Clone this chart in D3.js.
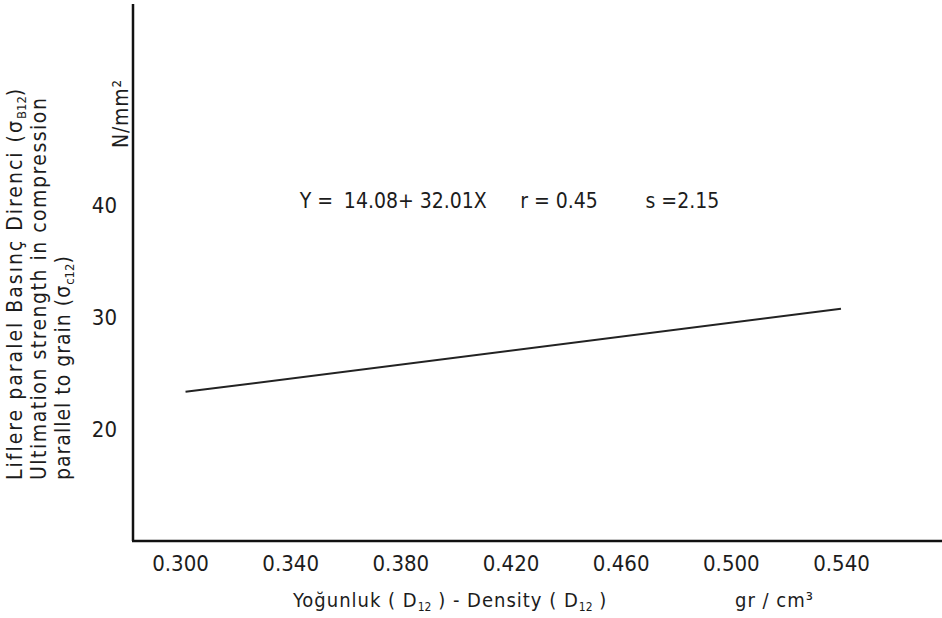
<!DOCTYPE html>
<html>
<head>
<meta charset="utf-8">
<script src="https://cdn.jsdelivr.net/npm/d3@7/dist/d3.min.js"></script>
<style>
  body { margin: 0; background: #fff; }
  svg { display: block; }
  text { font-family: "DejaVu Sans Condensed", "Liberation Sans Narrow", "DejaVu Sans", sans-serif; fill: #1c1c1c; }
  .tick text { font-size: 22px; }
  .axis-line { stroke: #111; stroke-width: 2.5; }
  .fit-line { fill: none; stroke: #222; stroke-width: 2; }
</style>
</head>
<body>
<svg id="chart" width="942" height="618"></svg>
<script>
// density ticks (gr/cm3) and strength ticks (N/mm2)
var xTicks = [0.300, 0.340, 0.380, 0.420, 0.460, 0.500, 0.540];
var yTicks = [20, 30, 40];

// regression line end points as drawn
var lineX = [0.302, 0.540];
var lineY = [23.4, 30.8];

var yTitleLines = [
  ["Liflere  paralel  Basınç  Direnci  (σ", "B12", ")"],
  ["Ultimation  strength  in  compression", "", ""],
  ["parallel  to  grain (σ", "c12", ")"]
];
var yTitleSpacing = [2.0, 1.5, 1.0];

var width = 942, height = 618;
var plotLeft = 133, plotBottom = 541, plotTop = 4;

var svg = d3.select("#chart");

var x = d3.scaleLinear().domain([0.300, 0.540]).range([180, 841]);
var y = d3.scaleLinear().domain([10, 58]).range([542, plotTop]);

// axes frame: left and bottom only
svg.append("line").attr("class", "axis-line")
  .attr("x1", plotLeft).attr("x2", plotLeft)
  .attr("y1", plotTop).attr("y2", plotBottom);
svg.append("line").attr("class", "axis-line")
  .attr("x1", plotLeft - 1).attr("x2", width)
  .attr("y1", plotBottom).attr("y2", plotBottom);

var xAxis = svg.append("g")
  .attr("transform", "translate(0," + plotBottom + ")")
  .call(d3.axisBottom(x).tickValues(xTicks).tickSize(0).tickPadding(14).tickFormat(d3.format(".3f")));
xAxis.select(".domain").remove();

var yAxis = svg.append("g")
  .attr("transform", "translate(" + plotLeft + ",0)")
  .call(d3.axisLeft(y).tickValues(yTicks).tickSize(0).tickPadding(16));
yAxis.select(".domain").remove();
svg.selectAll(".tick text").attr("fill", "#1c1c1c");

// fitted line
var pts = lineX.map(function(d, i) { return { x: d, y: lineY[i] }; });
svg.append("path")
  .datum(pts)
  .attr("class", "fit-line")
  .attr("d", d3.line().x(function(d) { return x(d.x); }).y(function(d) { return y(d.y); }));

// regression note
var note = svg.append("g").style("font-size", "21px");
note.append("text").attr("x", x(0.3435)).attr("y", y(39.8)).text("Y =");
note.append("text").attr("x", x(0.3595)).attr("y", y(39.8)).text("14.08+ 32.01X");
note.append("text").attr("x", x(0.4235)).attr("y", y(39.8)).text("r = 0.45");
note.append("text").attr("x", x(0.4690)).attr("y", y(39.8)).text("s =2.15");

// y title, three rotated lines
yTitleLines.forEach(function(parts, i) {
  var t = svg.append("text")
    .attr("transform", "translate(" + (22 + i * 24) + ",480) rotate(-90)")
    .style("font-size", "21px")
    .style("letter-spacing", yTitleSpacing[i] + "px");
  t.append("tspan").text(parts[0]);
  if (parts[1]) {
    t.append("tspan").attr("dy", 4).style("font-size", "13px").style("letter-spacing", "0px").text(parts[1]);
    t.append("tspan").attr("dy", -4).text(parts[2]);
  }
});

svg.append("text")
  .attr("transform", "translate(128,148) rotate(-90)")
  .style("font-size", "21px")
  .style("letter-spacing", "0.8px")
  .text("N/mm²");

// x title
var xt = svg.append("text").attr("x", 293).attr("y", 607)
  .style("font-size", "20px").style("letter-spacing", "1px");
xt.append("tspan").text("Yoğunluk ( D");
xt.append("tspan").attr("dy", 4).style("font-size", "12px").style("letter-spacing", "0px").text("12");
xt.append("tspan").attr("dy", -4).text(" ) - Density ( D");
xt.append("tspan").attr("dy", 4).style("font-size", "12px").style("letter-spacing", "0px").text("12");
xt.append("tspan").attr("dy", -4).text(" )");

svg.append("text").attr("x", 735).attr("y", 607)
  .style("font-size", "20px").style("letter-spacing", "1px").text("gr / cm³");
</script>
</body>
</html>
